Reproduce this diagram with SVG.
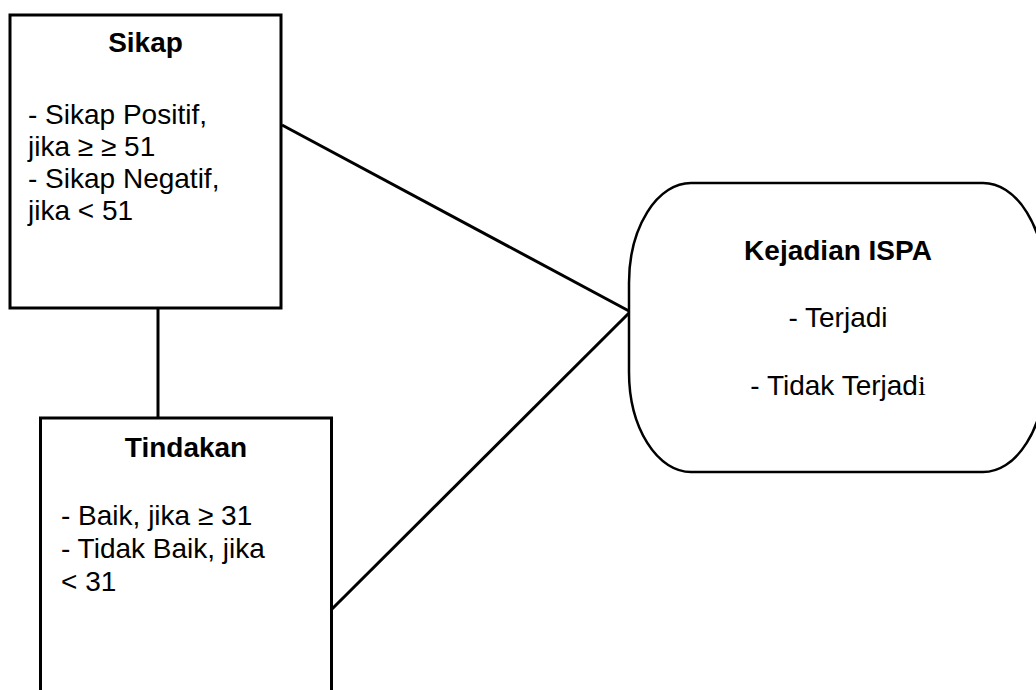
<svg xmlns="http://www.w3.org/2000/svg" width="1036" height="690" viewBox="0 0 1036 690">
<style>
.box{fill:#fff;stroke:#000;stroke-width:3}
.conn{stroke:#000;stroke-width:3;fill:none}
.t{font-family:"Liberation Sans",Arial,sans-serif;font-size:28px;fill:#000}
.b{font-weight:bold}
.m{text-anchor:middle}
</style>
<rect width="1036" height="690" fill="#fff"/>
<g id="connectors">
<line class="conn" x1="158" y1="308" x2="158" y2="418"/>
<line class="conn" x1="282" y1="125" x2="629" y2="311"/>
<line class="conn" x1="629" y1="313" x2="329" y2="612"/>
</g>
<g id="sikap">
<rect class="box" x="10" y="15" width="271" height="293"/>
<text class="t b m" x="145.5" y="52">Sikap</text>
<text class="t" x="28" y="124">- Sikap Positif,</text>
<text class="t" x="28" y="156">jika ≥ ≥ 51</text>
<text class="t" x="28" y="188">- Sikap Negatif,</text>
<text class="t" x="28" y="220">jika &lt; 51</text>
</g>
<g id="tindakan">
<rect class="box" x="40.5" y="418" width="291" height="300"/>
<text class="t b m" x="186" y="457">Tindakan</text>
<text class="t" x="61" y="525">- Baik, jika ≥ 31</text>
<text class="t" x="61" y="558">- Tidak Baik, jika</text>
<text class="t" x="61" y="591">&lt; 31</text>
</g>
<g id="kejadian">
<rect x="629" y="183" width="416" height="289" rx="62" ry="100" fill="#fff" stroke="#000" stroke-width="2.5"/>
<text class="t b m" x="838" y="260">Kejadian ISPA</text>
<text class="t m" x="838" y="327">- Terjadi</text>
<text class="t m" x="838" y="395">- Tidak Terjad<tspan font-family="'Liberation Serif',serif">i</tspan></text>
</g>
</svg>
